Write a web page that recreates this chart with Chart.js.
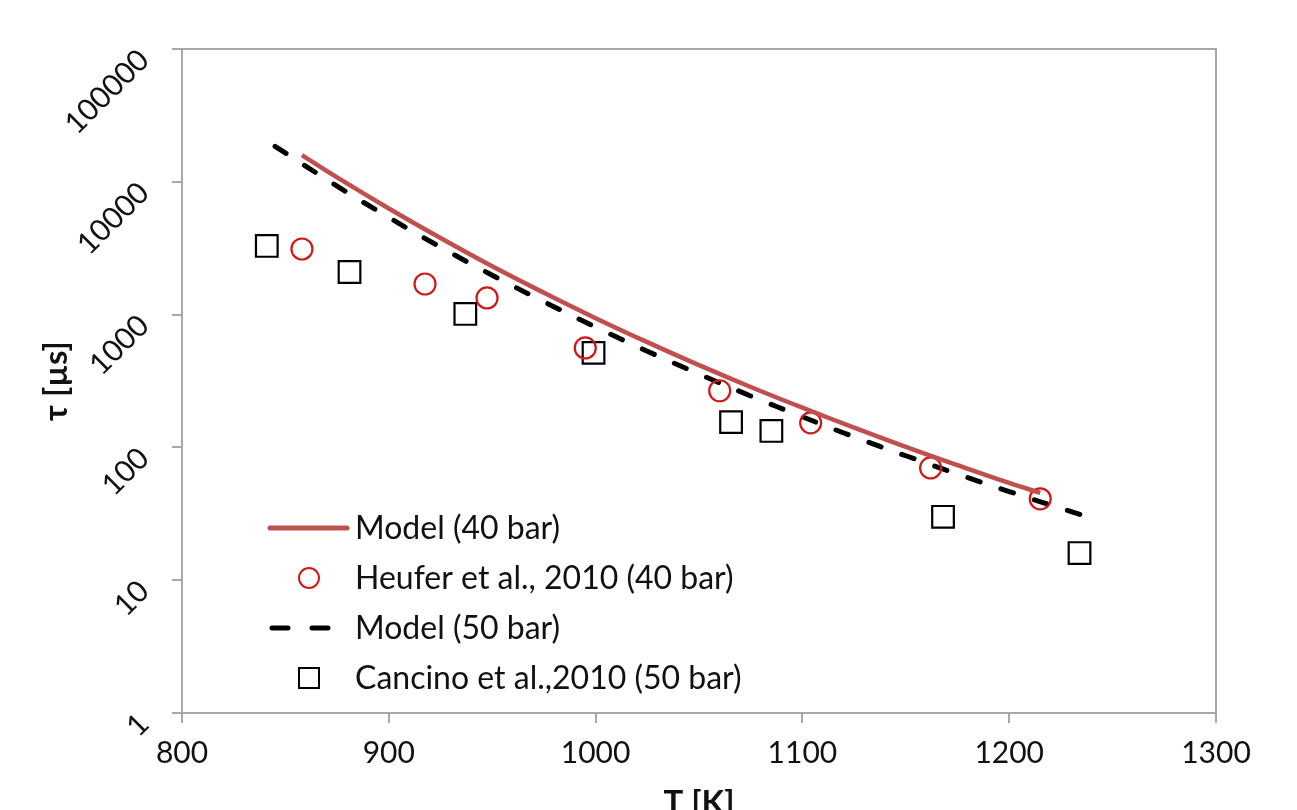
<!DOCTYPE html>
<html><head><meta charset="utf-8">
<script src="https://cdn.jsdelivr.net/npm/chart.js@4.4.1/dist/chart.umd.min.js"></script>
<style>html,body{margin:0;padding:0;background:#fff;overflow:hidden;}#wrap{width:1297px;height:840px;position:relative;}</style>
</head><body><div id="wrap"><canvas id="c"></canvas></div>
<script>
const xTicks = [800, 900, 1000, 1100, 1200, 1300];
const yTicks = [1, 10, 100, 1000, 10000, 100000];

const model40Label = 'Model (40 bar)';
const model40T   = [858, 875, 900, 925, 950, 975, 1000, 1025, 1050, 1075, 1100, 1125, 1150, 1175, 1200, 1215];
const model40Tau = [15900, 10800, 6300, 3770, 2310, 1460, 940, 620, 416, 285, 199, 141, 101, 73.5, 54, 45.5];

const heuferLabel = 'Heufer et al., 2010 (40 bar)';
const heuferT   = [858, 917.5, 947.5, 995, 1060, 1104, 1162, 1215];
const heuferTau = [3120, 1700, 1335, 561, 267, 153, 70, 41];

const model50Label = 'Model (50 bar)';
const model50T   = [845, 875, 900, 925, 950, 975, 1000, 1025, 1050, 1075, 1100, 1125, 1150, 1175, 1200, 1235];
const model50Tau = [18500, 9280, 5390, 3220, 1980, 1250, 805, 530, 357, 244, 170, 120, 86.5, 63, 46.5, 31];

const cancinoLabel = 'Cancino et al.,2010 (50 bar)';
const cancinoT   = [841, 881, 937, 999, 1065.5, 1085, 1168, 1234];
const cancinoTau = [3290, 2094, 1012, 515, 155, 133, 30, 16];

const toPts = (xs, ys) => xs.map((x, i) => ({x: x, y: ys[i]}));

const RED_LINE = '#c0504d';
const RED_MARK = '#d01818';
const AXIS = '#a8a8a8';
const FONT = 'Lato, "Open Sans", sans-serif';

const frame = {
  id: 'frame',
  afterDatasetsDraw(chart) {
    const {ctx, chartArea: a} = chart;
    ctx.save();
    ctx.strokeStyle = AXIS; ctx.lineWidth = 2;
    ctx.beginPath();
    ctx.moveTo(a.left, a.top); ctx.lineTo(a.right, a.top); ctx.lineTo(a.right, a.bottom);
    ctx.stroke();
    ctx.restore();
  }
};

const legendBox = {
  id: 'legendBox',
  afterDraw(chart) {
    const {ctx, chartArea: a} = chart;
    const x0 = a.left + 88, txtX = a.left + 173;
    const y0 = a.bottom - 185, dy = 50;
    const ds = chart.data.datasets;
    ctx.save();
    ctx.font = '32px ' + FONT;
    ctx.fillStyle = '#111';
    ctx.textBaseline = 'middle';
    ctx.textAlign = 'left';
    ds.forEach((d, i) => {
      const y = y0 + i * dy;
      ctx.save();
      if (d.showLine && !d.borderDash) {
        ctx.strokeStyle = d.borderColor; ctx.lineWidth = 5; ctx.lineCap = 'round';
        ctx.beginPath(); ctx.moveTo(x0, y); ctx.lineTo(x0 + 77, y); ctx.stroke();
      } else if (d.showLine) {
        ctx.strokeStyle = d.borderColor; ctx.lineWidth = 5; ctx.lineCap = 'round';
        ctx.beginPath(); ctx.moveTo(x0 + 2, y); ctx.lineTo(x0 + 18, y);
        ctx.moveTo(x0 + 42, y); ctx.lineTo(x0 + 58, y); ctx.stroke();
      } else if (d.pointStyle === 'circle') {
        ctx.strokeStyle = d.borderColor; ctx.lineWidth = 2;
        ctx.beginPath(); ctx.arc(x0 + 39, y, 10, 0, Math.PI * 2); ctx.stroke();
      } else {
        ctx.strokeStyle = d.borderColor; ctx.lineWidth = 2;
        ctx.strokeRect(x0 + 29, y - 10, 20, 20);
      }
      ctx.restore();
      ctx.fillText(d.label, txtX, y + 1);
    });
    ctx.restore();
  }
};

new Chart(document.getElementById('c'), {
  type: 'scatter',
  data: {
    datasets: [
      {label: model40Label, data: toPts(model40T, model40Tau), showLine: true, borderColor: RED_LINE, borderWidth: 4.5, pointRadius: 0, tension: 0.4, fill: false},
      {label: heuferLabel, data: toPts(heuferT, heuferTau), pointStyle: 'circle', pointRadius: 10.5, borderColor: RED_MARK, backgroundColor: 'rgba(0,0,0,0)', pointBorderWidth: 2.2},
      {label: model50Label, data: toPts(model50T, model50Tau), showLine: true, borderColor: '#000', borderWidth: 5, borderDash: [13, 22], borderCapStyle: 'round', pointRadius: 0, tension: 0.4, fill: false},
      {label: cancinoLabel, data: toPts(cancinoT, cancinoTau), pointStyle: 'rect', pointRadius: 15.3, borderColor: '#000', backgroundColor: 'rgba(0,0,0,0)', pointBorderWidth: 2.2}
    ]
  },
  options: {
    responsive: true, maintainAspectRatio: false, animation: false,
    layout: {padding: {top: 49, right: 81, left: 0, bottom: 0}},
    plugins: {legend: {display: false}, tooltip: {enabled: false}},
    scales: {
      x: {
        type: 'linear', min: 800, max: 1300,
        afterBuildTicks: s => { s.ticks = xTicks.map(v => ({value: v})); },
        afterFit: s => { s.height = 127; s.paddingLeft = 0; s.paddingRight = 0; },
        grid: {drawOnChartArea: false, drawTicks: true, tickLength: 10, color: AXIS, lineWidth: 2},
        border: {display: true, color: AXIS, width: 2},
        ticks: {font: {family: FONT, size: 30}, color: '#111', padding: 12, maxRotation: 0, minRotation: 0,
          callback: v => String(v)},
        title: {display: true, text: 'T [K]', font: {family: FONT, size: 33, weight: 'bold'}, color: '#111', padding: {top: 0, bottom: 17}}
      },
      y: {
        type: 'logarithmic', min: 1, max: 100000,
        afterBuildTicks: s => { s.ticks = yTicks.map(v => ({value: v})); },
        afterFit: s => { s.width = 182; s.paddingTop = 0; s.paddingBottom = 0; },
        grid: {drawOnChartArea: false, drawTicks: true, tickLength: 10, color: AXIS, lineWidth: 2},
        border: {display: true, color: AXIS, width: 2},
        ticks: {font: {family: FONT, size: 30}, color: '#111', padding: 28, labelOffset: 6, minRotation: 45, maxRotation: 45,
          callback: v => String(v)},
        title: {display: true, text: 'τ [µs]', font: {family: FONT, size: 33, weight: 'bold'}, color: '#111', padding: {top: 37, bottom: 0}}
      }
    }
  },
  plugins: [frame, legendBox]
});
</script>
</body></html>
